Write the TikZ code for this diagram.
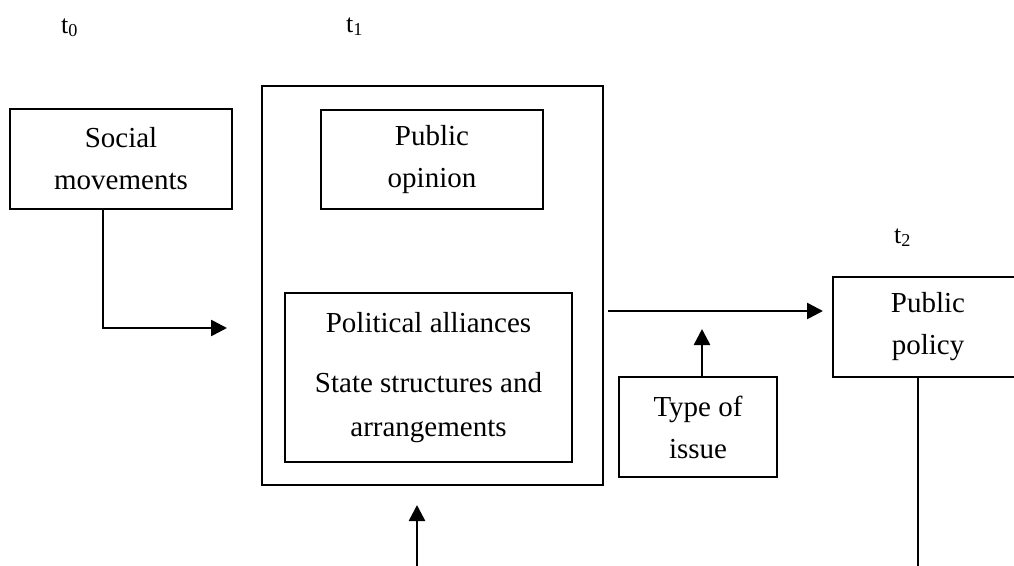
\documentclass[tikz,border=0pt]{standalone}
\usepackage{fontspec}
\setmainfont{Liberation Serif}
\usetikzlibrary{arrows.meta}
\begin{document}
\begin{tikzpicture}[x=1pt,y=-1pt,
  box/.style={draw,line width=2pt,rectangle,inner sep=0pt,align=center,
    font=\fontsize{29}{42}\selectfont},
  arr/.style={line width=2.6pt,-{Triangle[length=16pt,width=16pt]}},
  plain/.style={line width=2.6pt},
  tlabel/.style={anchor=base west,inner sep=0pt,font=\fontsize{26}{30}\selectfont}]
\useasboundingbox (0,0) rectangle (1014,565);
\clip (0,0) rectangle (1014,565);
% time labels
\node[tlabel] (t0) at (61,33) {t\textsubscript{0}};
\node[tlabel] (t1) at (346,32) {t\textsubscript{1}};
\node[tlabel] (t2) at (894,243) {t\textsubscript{2}};
% boxes
\node[box,minimum width=222pt,minimum height=100pt] (sm) at (121,159) {Social\\movements};
\node[box,minimum width=341pt,minimum height=399pt] (big) at (432.5,285.5) {};
\node[box,minimum width=222pt,minimum height=99pt] (po) at (432,159.5) {Public\\opinion};
\node[box,minimum width=287pt,minimum height=169pt,font=\fontsize{29}{44}\selectfont] (inner) at (428.5,377.5)
  {Political alliances\\[16pt]State structures and\\arrangements};
\node[box,minimum width=158pt,minimum height=100pt] (type) at (698,427) {Type of\\issue};
\node[box,minimum width=190pt,minimum height=100pt] (policy) at (928,327) {Public\\policy};
% connector end points
\coordinate (smend) at (227,328);
\coordinate (hstart) at (608,311);
\coordinate (hend) at (823,311);
\coordinate (typeend) at (702,329);
\coordinate (botstart) at (417,566);
\coordinate (botend) at (417,505);
\coordinate (polend) at (918,566);
% connectors
\draw[arr] ([xshift=-18pt]sm.south) |- (smend);
\draw[arr] (hstart) -- (hend);
\draw[arr] (type.north -| typeend) -- (typeend);
\draw[arr] (botstart) -- (botend);
\draw[plain] (policy.south -| polend) -- (polend);
\end{tikzpicture}
\end{document}
